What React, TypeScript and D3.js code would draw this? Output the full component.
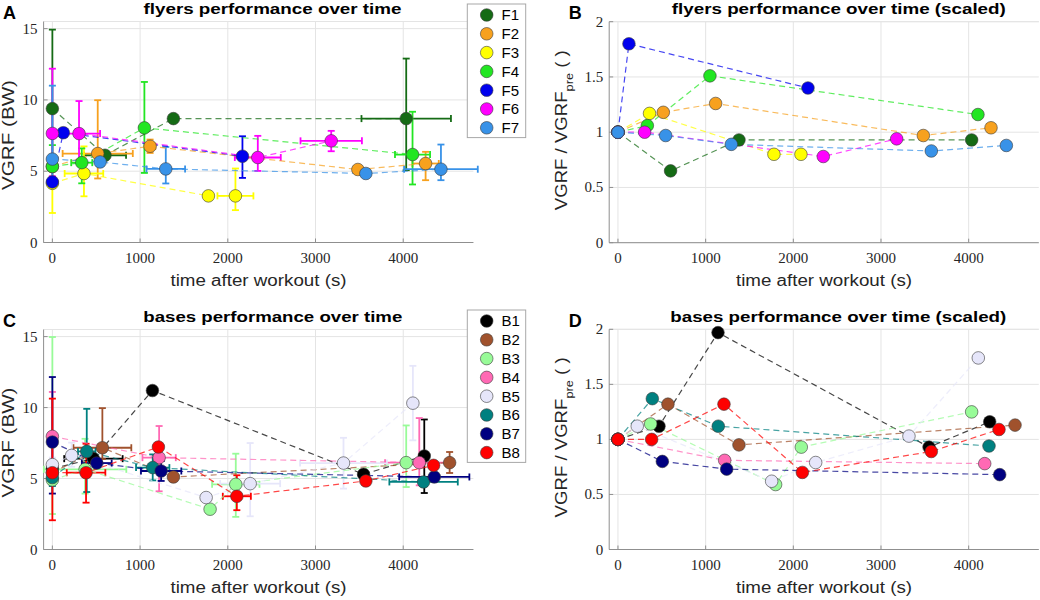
import * as d3 from "d3";

// ---- flyers (panel A raw, panel B scaled) ----
const flyerNames = ["F1", "F2", "F3", "F4", "F5", "F6", "F7"];
const flyerColors = ["#156b15", "#f7a11e", "#ffff00", "#22e622", "#0000ee", "#ff00ff", "#3892e8"];
// time after workout (s)
const flyerTime = [
  [0, 600, 1380, 4034],
  [0, 517, 1114, 3483, 4255],
  [0, 360, 1779, 2087],
  [0, 335, 1049, 4106],
  [0, 125, 2167],
  [0, 304, 2342, 3179],
  [0, 544, 1293, 3574, 4430],
];
// VGRF (BW)
const flyerVgrf = [
  [9.39, 6.12, 8.69, 8.69],
  [5.33, 6.24, 6.75, 5.12, 5.54],
  [4.15, 4.84, 3.27, 3.27],
  [5.33, 5.6, 8.04, 6.17],
  [4.25, 7.7, 6.05],
  [7.65, 7.64, 5.96, 7.13],
  [5.85, 5.65, 5.16, 4.84, 5.14],
];
const flyerTimeErr = [
  [0, 240, 0, 510],
  [0, 400, 60, 0, 150],
  [0, 220, 0, 205],
  [0, 120, 0, 200],
  [0, 0, 0],
  [0, 240, 262, 350],
  [0, 0, 220, 0, 420],
];
const flyerErrLow = [
  [4.0, 0.3, 0, 3.62],
  [0.3, 1.75, 0.47, 0, 1.17],
  [2.08, 1.6, 0, 1.0],
  [1.5, 1.45, 3.16, 2.1],
  [0.3, 0.3, 1.52],
  [3.0, 1.84, 0.94, 0.73],
  [1.7, 0.2, 1.02, 0, 0.77],
];
const flyerErrHigh = [
  [5.54, 0.3, 0, 4.21],
  [0.3, 3.74, 0.47, 0, 0.82],
  [2.0, 1.9, 0, 1.92],
  [1.5, 1.0, 3.22, 3.0],
  [0.3, 0.3, 1.4],
  [4.54, 2.28, 1.52, 0.7],
  [5.15, 0.2, 1.54, 0, 1.73],
];
// VGRF / VGRF_pre
const flyerScaled = [
  [1, 0.65, 0.93, 0.93],
  [1, 1.18, 1.26, 0.97, 1.04],
  [1, 1.17, 0.8, 0.8],
  [1, 1.06, 1.51, 1.16],
  [1, 1.8, 1.4],
  [1, 1.0, 0.78, 0.94],
  [1, 0.97, 0.89, 0.83, 0.88],
];

// ---- bases (panel C raw, panel D scaled) ----
const baseNames = ["B1", "B2", "B3", "B4", "B5", "B6", "B7", "B8"];
const baseColors = ["#000000", "#a0522d", "#98fb98", "#ff69b4", "#e6e6fa", "#008080", "#000080", "#ff0000"];
const baseTime = [
  [0, 468, 1141, 3548, 4240],
  [0, 570, 1380, 4529],
  [0, 373, 1798, 2091, 4034],
  [0, 1217, 4183],
  [0, 220, 1753, 2255, 3319, 4110],
  [0, 392, 1144, 4232],
  [0, 506, 1240, 4354],
  [0, 384, 1209, 2103, 3574, 4346],
];
const baseVgrf = [
  [5.7, 6.4, 11.2, 5.3, 6.59],
  [5.42, 7.17, 5.11, 6.12],
  [4.9, 5.65, 2.84, 4.59, 6.12],
  [7.97, 6.47, 6.12],
  [5.98, 6.63, 3.66, 4.64, 6.09, 10.31],
  [5.07, 6.91, 5.77, 4.76],
  [7.57, 6.09, 5.53, 5.11],
  [5.41, 5.41, 7.22, 3.75, 4.83, 5.93],
];
const baseTimeErr = [
  [0, 333, 0, 0, 0],
  [0, 330, 0, 0],
  [0, 470, 0, 270, 0],
  [0, 190, 390],
  [0, 0, 0, 342, 495, 0],
  [0, 100, 190, 390],
  [0, 170, 230, 400],
  [0, 220, 0, 160, 0, 0],
];
const baseErrLow = [
  [0.3, 0.3, 0, 0, 2.61],
  [0.3, 0.8, 0.2, 0.73],
  [2.4, 1.71, 0, 2.29, 1.72],
  [3.0, 2.37, 1.6],
  [0.5, 0.8, 0, 2.3, 1.8, 2.62],
  [0.6, 2.86, 0.9, 0.3],
  [3.63, 0.3, 0.7, 0.3],
  [3.35, 2.11, 0.3, 0.98, 0.2, 0.3],
];
const baseErrHigh = [
  [0.3, 0.3, 0, 0, 2.57],
  [0.3, 2.79, 0.2, 0.75],
  [10.07, 2.15, 0, 2.16, 2.62],
  [3.13, 2.23, 3.14],
  [0.5, 0.9, 0, 2.86, 1.78, 2.63],
  [0.6, 3.0, 0.93, 0.3],
  [4.58, 0.3, 0.7, 0.3],
  [5.22, 2.04, 0.3, 1.48, 0.2, 0.3],
];
const baseScaled = [
  [1, 1.12, 1.97, 0.93, 1.16],
  [1, 1.32, 0.95, 1.13],
  [1, 1.14, 0.59, 0.93, 1.25],
  [1, 0.81, 0.78],
  [1, 1.12, 0.62, 0.79, 1.03, 1.74],
  [1, 1.37, 1.12, 0.94],
  [1, 0.8, 0.73, 0.68],
  [1, 1.0, 1.32, 0.7, 0.89, 1.09],
];

const xTicks = [0, 1000, 2000, 3000, 4000];
const rawTicks = [0, 5, 10, 15];
const scaledTicks = [0, 0.5, 1, 1.5, 2];

type Series = { name: string; color: string; t: number[]; v: number[]; te?: number[]; lo?: number[]; hi?: number[] };

const SANS = "Liberation Sans, Arial, sans-serif";
const SERIF = "Liberation Serif, Times New Roman, serif";
const GRID = "#e4e4e4";
const AXIS = "#8f8f8f";
const INK = "#262626";

function buildSeries(names: string[], colors: string[], t: number[][], v: number[][], te?: number[][], lo?: number[][], hi?: number[][]): Series[] {
  return names.map((name, i) => ({ name, color: colors[i], t: t[i], v: v[i], te: te?.[i], lo: lo?.[i], hi: hi?.[i] }));
}

// one axes: grid, axes, error bars, dashed connections, markers, labels
function Panel({
  left, right, top, bottom, yMax, yTicks, series, letter, title, titleX, titleW, titleY, scaled,
}: {
  left: number; right: number; top: number; bottom: number; yMax: number; yTicks: number[];
  series: Series[]; letter: string; title: string; titleX: number; titleW: number; titleY: number; scaled: boolean;
}) {
  const x = d3.scaleLinear().domain([-100, 4800]).range([left, right]);
  const y = d3.scaleLinear().domain([0, yMax]).range([bottom, top]);
  const path = (s: Series) => d3.line<number>().x((_, j) => x(s.t[j])).y((d) => y(d))(s.v) ?? "";
  const cap = 3.5;
  const midY = (top + bottom) / 2;
  return (
    <g>
      {xTicks.map((t) => (
        <line key={`gx${t}`} x1={x(t)} x2={x(t)} y1={top} y2={bottom} stroke={GRID} />
      ))}
      {yTicks.map((t) => (
        <line key={`gy${t}`} x1={left} x2={right} y1={y(t)} y2={y(t)} stroke={GRID} />
      ))}
      <line x1={left} x2={right} y1={top} y2={top} stroke={GRID} />
      <line x1={left} x2={right} y1={bottom} y2={bottom} stroke={AXIS} />
      <line x1={left} x2={left} y1={top} y2={bottom} stroke={AXIS} />
      {xTicks.map((t) => (
        <g key={`tx${t}`}>
          <line x1={x(t)} x2={x(t)} y1={bottom} y2={bottom - 4} stroke={AXIS} />
          <text x={x(t)} y={bottom + 20.5} textAnchor="middle" fontSize={15} fontFamily={SERIF} fill={INK}>{t}</text>
        </g>
      ))}
      {yTicks.map((t) => (
        <g key={`ty${t}`}>
          <line x1={left} x2={left + 4} y1={y(t)} y2={y(t)} stroke={AXIS} />
          <text x={left - 6} y={y(t) + 5} textAnchor="end" fontSize={15} fontFamily={SERIF} fill={INK}>{t}</text>
        </g>
      ))}
      {series.map((s) => (
        <g key={`e${s.name}`} stroke={s.color} strokeWidth={1.8} fill="none">
          {s.t.map((t, j) => {
            const v = s.v[j];
            const lo = s.lo?.[j] ?? 0, hi = s.hi?.[j] ?? 0, te = s.te?.[j] ?? 0;
            return (
              <g key={j}>
                {(lo > 0 || hi > 0) && (
                  <>
                    <line x1={x(t)} x2={x(t)} y1={y(v - lo)} y2={y(v + hi)} />
                    <line x1={x(t) - cap} x2={x(t) + cap} y1={y(v - lo)} y2={y(v - lo)} />
                    <line x1={x(t) - cap} x2={x(t) + cap} y1={y(v + hi)} y2={y(v + hi)} />
                  </>
                )}
                {te > 0 && (
                  <>
                    <line x1={x(t - te)} x2={x(t + te)} y1={y(v)} y2={y(v)} />
                    <line x1={x(t - te)} x2={x(t - te)} y1={y(v) - cap} y2={y(v) + cap} />
                    <line x1={x(t + te)} x2={x(t + te)} y1={y(v) - cap} y2={y(v) + cap} />
                  </>
                )}
              </g>
            );
          })}
        </g>
      ))}
      {series.map((s) => (
        <path key={`l${s.name}`} d={path(s)} fill="none" stroke={s.color} strokeOpacity={0.72} strokeWidth={1.2} strokeDasharray="6 4" />
      ))}
      {series.map((s) => (
        <g key={`m${s.name}`}>
          {s.t.map((t, j) => (
            <circle key={j} cx={x(t)} cy={y(s.v[j])} r={6.3} fill={s.color} stroke="#3a3a3a" strokeWidth={0.6} />
          ))}
        </g>
      ))}
      <text x={left - 40.5} y={top - 2.5} fontSize={18} fontWeight="bold" fontFamily={SANS} fill="#000">{letter}</text>
      <text x={titleX} y={titleY} textAnchor="middle" fontSize={15.5} fontWeight="bold" fontFamily={SANS} fill="#000"
        textLength={titleW} lengthAdjust="spacingAndGlyphs">{title}</text>
      <text x={(left + right) / 2} y={bottom + 43.5} textAnchor="middle" fontSize={16} fontFamily={SANS} fill={INK}
        textLength={176} lengthAdjust="spacingAndGlyphs">time after workout (s)</text>
      {scaled ? (
        <text transform={`translate(${left - 42},${midY - 2}) rotate(-90)`} textAnchor="middle" fontSize={16} fontFamily={SANS} fill={INK}
          textLength={160} lengthAdjust="spacingAndGlyphs">
          VGRF / VGRF<tspan fontSize={11} dy={6}>pre</tspan><tspan dy={-6}> ( )</tspan>
        </text>
      ) : (
        <text transform={`translate(${left - 30},${midY + 3}) rotate(-90)`} textAnchor="middle" fontSize={16} fontFamily={SANS} fill={INK}
          textLength={110} lengthAdjust="spacingAndGlyphs">VGRF (BW)</text>
      )}
    </g>
  );
}

function Legend({ series, top }: { series: Series[]; top: number }) {
  const rowH = 18.8;
  const h = series.length * rowH + 2;
  return (
    <g>
      <rect x={467.3} y={top} width={58.4} height={h} fill="#fff" stroke="#a8a8a8" />
      {series.map((s, i) => (
        <g key={s.name}>
          <circle cx={486.7} cy={top + 11 + i * rowH} r={6.3} fill={s.color} stroke="#3a3a3a" strokeWidth={0.6} />
          <text x={501.5} y={top + 11 + i * rowH + 5.3} fontSize={15} fontFamily={SANS} fill="#000">{s.name}</text>
        </g>
      ))}
    </g>
  );
}

export default function App() {
  const flyersRaw = buildSeries(flyerNames, flyerColors, flyerTime, flyerVgrf, flyerTimeErr, flyerErrLow, flyerErrHigh);
  const flyersScaled = buildSeries(flyerNames, flyerColors, flyerTime, flyerScaled);
  const basesRaw = buildSeries(baseNames, baseColors, baseTime, baseVgrf, baseTimeErr, baseErrLow, baseErrHigh);
  const basesScaled = buildSeries(baseNames, baseColors, baseTime, baseScaled);
  return (
    <svg width={1040} height={600} style={{ position: "absolute", left: 0, top: 0, background: "#fff" }}>
      <Panel left={43.6} right={473.4} top={21.5} bottom={242.5} yMax={15.5} yTicks={rawTicks} series={flyersRaw}
        letter="A" title="flyers performance over time" titleX={272.5} titleW={258} titleY={14} scaled={false} />
      <Panel left={609.2} right={1038.8} top={21.7} bottom={242.7} yMax={2} yTicks={scaledTicks} series={flyersScaled}
        letter="B" title="flyers performance over time (scaled)" titleX={838.8} titleW={334} titleY={14} scaled={true} />
      <Panel left={43.6} right={473.4} top={329.5} bottom={549.5} yMax={15.5} yTicks={rawTicks} series={basesRaw}
        letter="C" title="bases performance over time" titleX={272.8} titleW={259} titleY={321.5} scaled={false} />
      <Panel left={609.2} right={1038.8} top={329.3} bottom={549.5} yMax={2} yTicks={scaledTicks} series={basesScaled}
        letter="D" title="bases performance over time (scaled)" titleX={838.3} titleW={336} titleY={321.5} scaled={true} />
      <Legend series={flyersRaw} top={4} />
      <Legend series={basesRaw} top={310} />
    </svg>
  );
}
